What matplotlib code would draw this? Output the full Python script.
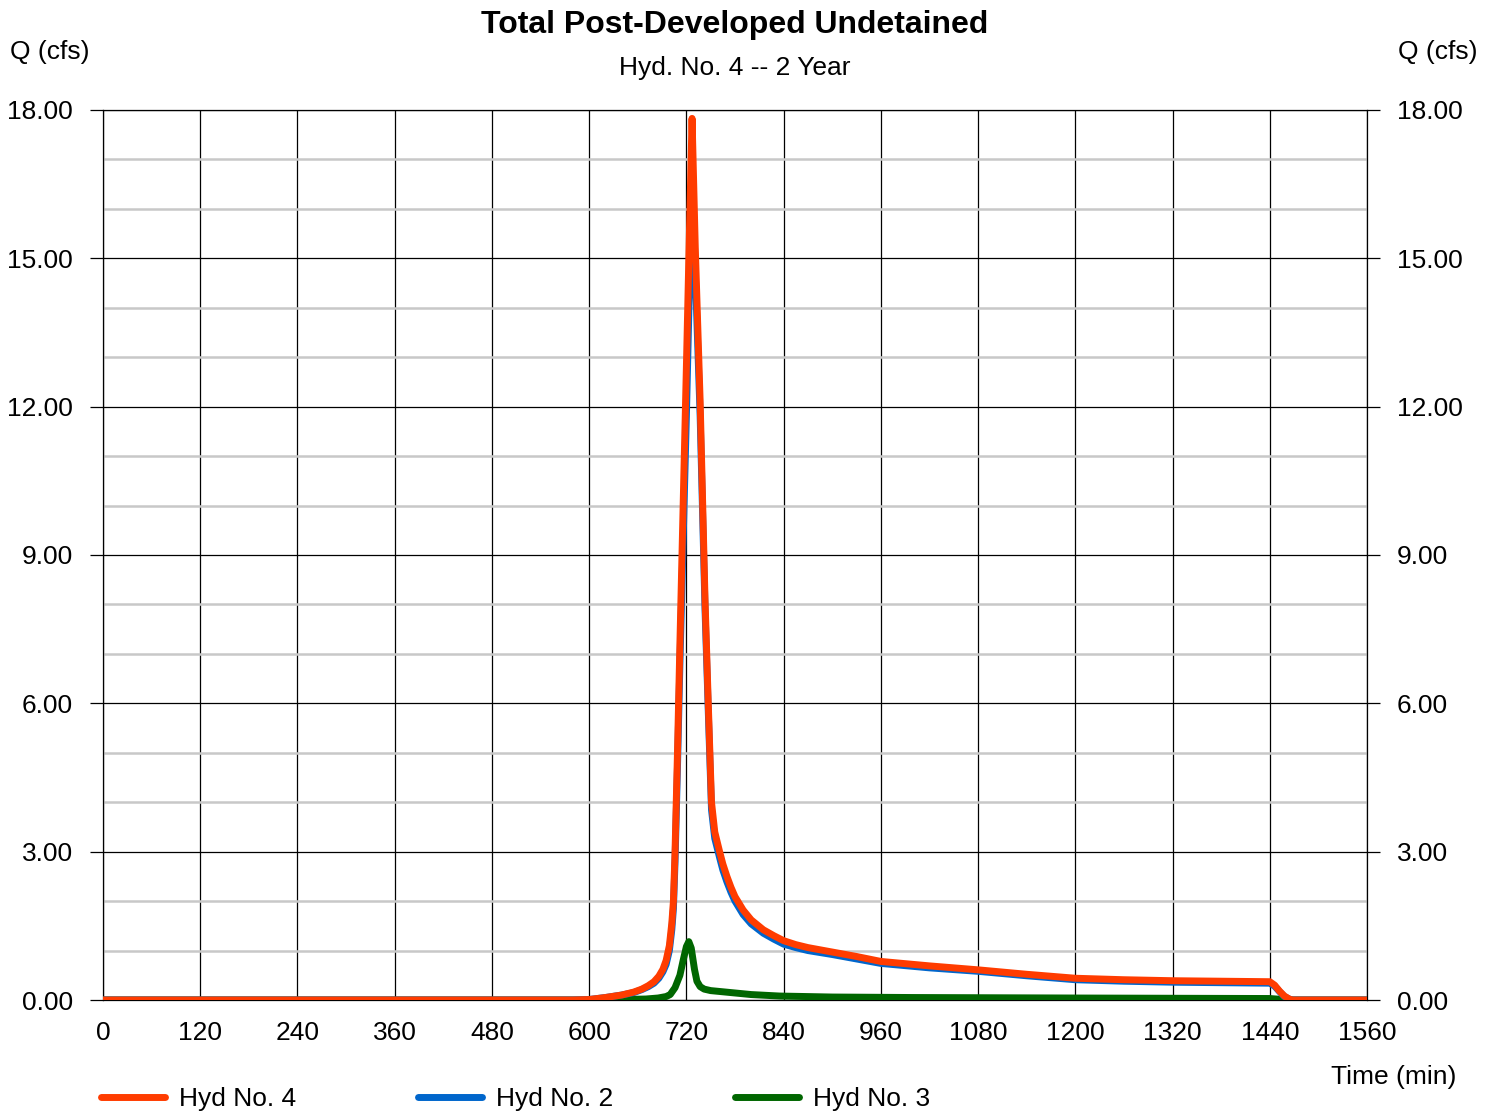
import matplotlib
matplotlib.use("Agg")
import matplotlib.pyplot as plt
from matplotlib.ticker import MultipleLocator, FormatStrFormatter

plt.rcParams['font.family'] = ['Liberation Sans', 'DejaVu Sans']

# hydrograph ordinates (time in min, flow in cfs)
t_red = [0, 580, 600, 620, 640, 655, 665, 673, 680, 686, 691, 695, 699, 702, 704, 706, 709,
         712, 716, 720, 724, 727, 731, 737, 743, 747, 749, 751, 755, 761, 765, 770, 775, 780,
         790, 800, 815, 828, 840, 855, 870, 900, 930, 960, 1020, 1080, 1140, 1200,
         1260, 1320, 1380, 1440, 1446, 1452, 1458, 1464, 1468, 1560]
q_red = [0, 0, 0.01, 0.05, 0.1, 0.16, 0.22, 0.29, 0.37, 0.48, 0.62, 0.8, 1.1, 1.55, 2.0, 3.0, 5.0,
         7.2, 10.0, 12.8, 15.7, 17.83, 15.2, 12.1, 8.1, 6.0, 5.0, 4.0, 3.4, 3.0, 2.75, 2.5, 2.28, 2.09,
         1.82, 1.62, 1.42, 1.3, 1.2, 1.12, 1.06, 0.97, 0.88, 0.78, 0.69, 0.61, 0.52, 0.44,
         0.41, 0.39, 0.38, 0.37, 0.3, 0.18, 0.08, 0.02, 0, 0]

t_blue = [0, 580, 600, 620, 640, 655, 665, 673, 680, 686, 691, 695, 699, 702, 704, 706, 709,
          712, 716, 720, 724, 727, 731, 737, 743, 747, 749, 751, 755, 761, 765, 770, 775, 780,
          790, 800, 815, 828, 840, 855, 870, 900, 930, 960, 1020, 1080, 1140, 1200,
          1260, 1320, 1380, 1440, 1446, 1452, 1458, 1464, 1468, 1560]
q_blue = [0, 0, 0.01, 0.05, 0.1, 0.15, 0.21, 0.27, 0.34, 0.44, 0.57, 0.72, 1.0, 1.42, 1.85, 2.8, 4.7,
          6.8, 9.3, 11.8, 14.6, 16.9, 14.7, 11.8, 7.9, 5.85, 4.85, 3.85, 3.27, 2.88, 2.63, 2.39, 2.18, 2.0,
          1.73, 1.54, 1.35, 1.23, 1.13, 1.06, 1.0, 0.92, 0.83, 0.74, 0.65, 0.58, 0.49, 0.41,
          0.38, 0.36, 0.35, 0.34, 0.28, 0.17, 0.07, 0.02, 0, 0]

t_green = [0, 600, 640, 670, 685, 695, 700, 706, 712, 716, 720, 723, 726, 730, 733, 737,
           742, 750, 775, 800, 835, 900, 1000, 1200, 1440, 1452, 1462, 1560]
q_green = [0, 0, 0.01, 0.02, 0.04, 0.07, 0.11, 0.25, 0.5, 0.8, 1.08, 1.18, 1.05, 0.62, 0.38, 0.27,
           0.22, 0.19, 0.15, 0.11, 0.08, 0.06, 0.05, 0.04, 0.03, 0.015, 0, 0]

series_names = ['Hyd No. 4', 'Hyd No. 2', 'Hyd No. 3']
series_colors = ['#FF3C00', '#0066CC', '#006600']

W, H = 1497, 1112
fig = plt.figure(figsize=(W / 100, H / 100), dpi=100)
ax = fig.add_axes([103 / W, 1 - 1000 / H, 1264 / W, 890 / H])

lw = 5.0
style = dict(lw=lw, solid_capstyle='round', solid_joinstyle='round')
g, = ax.plot(t_green, q_green, color=series_colors[2], zorder=3, **style)
b, = ax.plot(t_blue, q_blue, color=series_colors[1], zorder=4, **style)
r, = ax.plot(t_red, q_red, color=series_colors[0], zorder=5, **style)

ax.set_xlim(0, 1560)
ax.set_ylim(0, 18)
ax.xaxis.set_major_locator(MultipleLocator(120))
ax.yaxis.set_major_locator(MultipleLocator(3))
ax.yaxis.set_minor_locator(MultipleLocator(1))
ax.yaxis.set_major_formatter(FormatStrFormatter('%.2f'))

ax.grid(True, which='major', color='black', lw=0.9, zorder=1)
ax.grid(True, which='minor', axis='y', color='#c8c8c8', lw=1.8, zorder=0)
ax.set_axisbelow(True)
for s in ax.spines.values():
    s.set_color('black')
    s.set_linewidth(0.9)

ax.tick_params(axis='y', which='major', direction='out', length=9.5, width=0.9,
               labelsize=19, pad=12, left=True, right=True, labelleft=True, labelright=True)
ax.tick_params(axis='y', which='minor', length=0)
ax.tick_params(axis='x', which='major', length=0, labelsize=19, pad=15)

# titles sit over the middle of the plot area
xc = (103 + 1367) / 2 / W
fig.text(xc, 1 - 25 / H, 'Total Post-Developed Undetained', ha='center', va='center',
         fontsize=23, fontweight='bold')
fig.text(xc, 1 - 68 / H, 'Hyd. No. 4 -- 2 Year', ha='center', va='center', fontsize=19)
fig.text(10 / W, 1 - 52 / H, 'Q (cfs)', ha='left', va='center', fontsize=19)
fig.text(1478 / W, 1 - 52 / H, 'Q (cfs)', ha='right', va='center', fontsize=19)
fig.text(1456 / W, 1 - 1077 / H, 'Time (min)', ha='right', va='center', fontsize=19)

leg = fig.legend([r, b, g], series_names, loc='center left',
                 bbox_to_anchor=(101 / W, 1 - 1099 / H), ncol=3, frameon=False,
                 fontsize=19, handlelength=2.42, handletextpad=0.53, columnspacing=4.62,
                 borderpad=0, borderaxespad=0)

fig.savefig('out.png', dpi=100)
